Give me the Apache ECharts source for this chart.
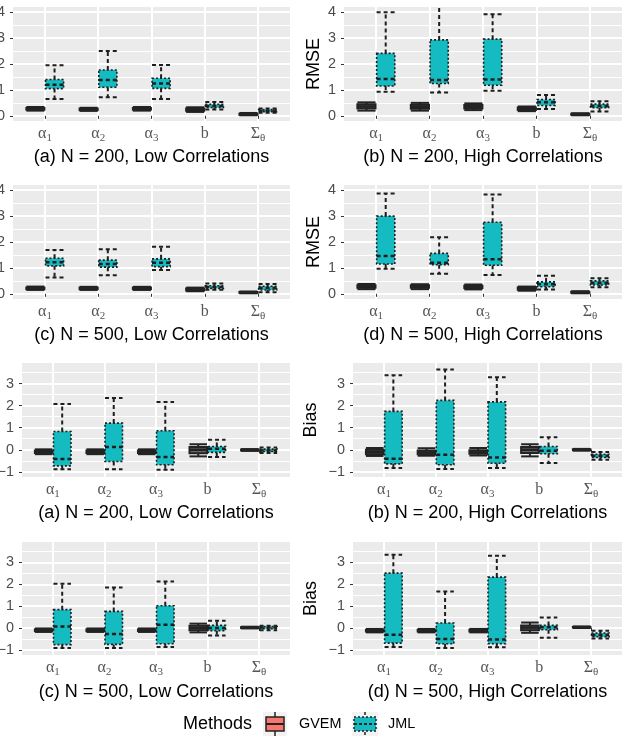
<!DOCTYPE html>
<html>
<head>
<meta charset="utf-8">
<script src="https://cdn.jsdelivr.net/npm/echarts@6/dist/echarts.min.js"></script>
<style>
html, body { margin: 0; padding: 0; background: #fff; }
#main { width: 630px; height: 744px; }
</style>
</head>
<body>
<div id="main"></div>
<script>
// categories on every x axis
var catPos = [1, 2, 3, 4, 5];
var catLabels = ['{a|α}{s|1}', '{a|α}{s|2}', '{a|α}{s|3}', '{a|b}', '{a|Σ}{s|θ}'];
var methods = ['GVEM', 'JML'];

// y ticks
var rmseTicks = [0, 1, 2, 3, 4];
var rmseMinor = [0.5, 1.5, 2.5, 3.5];
var biasTicks = [-1, 0, 1, 2, 3];
var biasMinor = [-0.5, 0.5, 1.5, 2.5, 3.5];

// each row: [low whisker, Q1, median, Q3, high whisker] for a1, a2, a3, b, Sigma
var rmse_a_gvem = [[0.2, 0.24, 0.27, 0.3, 0.34], [0.19, 0.22, 0.25, 0.28, 0.31], [0.2, 0.24, 0.27, 0.3, 0.34], [0.15, 0.2, 0.24, 0.28, 0.33], [0.02, 0.04, 0.06, 0.08, 0.11]];
var rmse_a_jml = [[0.65, 1.05, 1.2, 1.4, 1.95], [0.72, 1.1, 1.38, 1.77, 2.5], [0.65, 1.06, 1.25, 1.45, 1.96], [0.24, 0.32, 0.38, 0.44, 0.53], [0.12, 0.16, 0.2, 0.24, 0.28]];
var rmse_b_gvem = [[0.2, 0.28, 0.36, 0.45, 0.52], [0.2, 0.27, 0.35, 0.43, 0.5], [0.22, 0.28, 0.35, 0.42, 0.48], [0.18, 0.22, 0.27, 0.32, 0.36], [0.02, 0.04, 0.06, 0.08, 0.1]];
var rmse_b_jml = [[0.93, 1.15, 1.42, 2.41, 4.0], [0.9, 1.25, 1.38, 2.93, 4.5], [0.97, 1.18, 1.4, 2.96, 3.92], [0.26, 0.4, 0.52, 0.63, 0.8], [0.17, 0.31, 0.38, 0.45, 0.56]];
var rmse_c_gvem = [[0.15, 0.18, 0.21, 0.24, 0.28], [0.15, 0.18, 0.21, 0.24, 0.27], [0.15, 0.18, 0.21, 0.24, 0.27], [0.1, 0.13, 0.17, 0.21, 0.24], [0.02, 0.04, 0.05, 0.07, 0.09]];
var rmse_c_jml = [[0.63, 1.08, 1.22, 1.37, 1.69], [0.72, 1.03, 1.15, 1.3, 1.72], [0.92, 1.05, 1.2, 1.35, 1.82], [0.16, 0.21, 0.26, 0.31, 0.4], [0.06, 0.15, 0.22, 0.29, 0.38]];
var rmse_d_gvem = [[0.18, 0.23, 0.28, 0.33, 0.38], [0.18, 0.23, 0.28, 0.33, 0.37], [0.17, 0.22, 0.27, 0.31, 0.36], [0.12, 0.16, 0.2, 0.24, 0.28], [0.02, 0.04, 0.06, 0.08, 0.1]];
var rmse_d_jml = [[0.97, 1.15, 1.46, 3.0, 3.87], [0.77, 1.12, 1.2, 1.56, 2.18], [0.73, 1.1, 1.33, 2.76, 3.83], [0.17, 0.27, 0.37, 0.46, 0.7], [0.25, 0.34, 0.42, 0.5, 0.6]];

var bias_a_gvem = [[-0.2, -0.15, -0.09, -0.03, 0.02], [-0.2, -0.15, -0.09, -0.03, 0.02], [-0.2, -0.15, -0.09, -0.03, 0.02], [-0.3, -0.16, 0.0, 0.13, 0.25], [-0.05, -0.03, -0.01, 0.01, 0.03]];
var bias_a_jml = [[-0.88, -0.73, -0.42, 0.83, 2.08], [-0.88, -0.53, 0.12, 1.21, 2.35], [-0.91, -0.68, -0.33, 0.86, 2.17], [-0.33, -0.12, 0.05, 0.15, 0.45], [-0.15, -0.08, -0.03, 0.03, 0.1]];
var bias_b_gvem = [[-0.28, -0.2, -0.1, 0.0, 0.08], [-0.27, -0.2, -0.12, -0.03, 0.07], [-0.26, -0.18, -0.1, -0.02, 0.08], [-0.3, -0.15, 0.0, 0.12, 0.25], [-0.04, -0.02, 0.0, 0.02, 0.04]];
var bias_b_jml = [[-0.83, -0.64, -0.41, 1.74, 3.38], [-0.87, -0.68, -0.23, 2.24, 3.64], [-0.83, -0.61, -0.35, 2.17, 3.29], [-0.6, -0.18, -0.04, 0.15, 0.57], [-0.45, -0.35, -0.28, -0.2, -0.1]];
var bias_c_gvem = [[-0.18, -0.14, -0.1, -0.06, -0.02], [-0.18, -0.14, -0.1, -0.06, -0.02], [-0.18, -0.14, -0.1, -0.06, -0.02], [-0.2, -0.1, 0.0, 0.1, 0.2], [-0.02, 0.0, 0.02, 0.04, 0.06]];
var bias_c_jml = [[-0.91, -0.76, 0.07, 0.84, 2.02], [-0.91, -0.75, -0.27, 0.76, 1.85], [-0.87, -0.72, 0.15, 1.02, 2.13], [-0.34, -0.12, 0.0, 0.12, 0.33], [-0.1, -0.03, 0.02, 0.07, 0.1]];
var bias_d_gvem = [[-0.2, -0.16, -0.12, -0.08, -0.04], [-0.2, -0.16, -0.12, -0.08, -0.04], [-0.2, -0.16, -0.12, -0.08, -0.04], [-0.22, -0.1, 0.02, 0.12, 0.25], [0.0, 0.02, 0.04, 0.05, 0.07]];
var bias_d_jml = [[-0.87, -0.69, -0.31, 2.51, 3.35], [-0.91, -0.72, -0.5, 0.23, 1.67], [-0.88, -0.72, -0.53, 2.33, 3.31], [-0.45, -0.08, 0.03, 0.12, 0.48], [-0.48, -0.4, -0.32, -0.23, -0.12]];

var FONT = '"Liberation Sans", Arial, sans-serif';
var SERIF = '"Liberation Serif", "DejaVu Serif", serif';

var rmseAxis = {name: 'RMSE', min: -0.2, max: 4.2, ticks: rmseTicks, minor: rmseMinor};
var biasAxis = {name: 'Bias', min: -1.235, max: 3.935, ticks: biasTicks, minor: biasMinor};

// panel layout (pixels)
var panels = [
    {title: '(a) N = 200, Low Correlations', ax: rmseAxis, gvem: rmse_a_gvem, jml: rmse_a_jml, left: 13, right: 340, top: 7, height: 114, nameGap: 21, ty: 157},
    {title: '(b) N = 200, High Correlations', ax: rmseAxis, gvem: rmse_b_gvem, jml: rmse_b_jml, left: 344, right: 8, top: 7, height: 114, nameGap: 21, ty: 157},
    {title: '(c) N = 500, Low Correlations', ax: rmseAxis, gvem: rmse_c_gvem, jml: rmse_c_jml, left: 13, right: 340, top: 185, height: 114, nameGap: 21, ty: 335},
    {title: '(d) N = 500, High Correlations', ax: rmseAxis, gvem: rmse_d_gvem, jml: rmse_d_jml, left: 344, right: 8, top: 185, height: 114, nameGap: 21, ty: 335},
    {title: '(a) N = 200, Low Correlations', ax: biasAxis, gvem: bias_a_gvem, jml: bias_a_jml, left: 22, right: 340, top: 363, height: 114, nameGap: 33, ty: 513},
    {title: '(b) N = 200, High Correlations', ax: biasAxis, gvem: bias_b_gvem, jml: bias_b_jml, left: 353, right: 8, top: 363, height: 114, nameGap: 33, ty: 513},
    {title: '(c) N = 500, Low Correlations', ax: biasAxis, gvem: bias_c_gvem, jml: bias_c_jml, left: 22, right: 340, top: 542, height: 113, nameGap: 33, ty: 692},
    {title: '(d) N = 500, High Correlations', ax: biasAxis, gvem: bias_d_gvem, jml: bias_d_jml, left: 353, right: 8, top: 542, height: 113, nameGap: 33, ty: 692}
];

var boxStyles = {
    GVEM: {shift: -0.18, half: 0.17, fill: '#666666', stroke: '#232323', box: 2, whisker: 2, median: 2.5, boxDash: null, dash: null},
    JML: {shift: 0.18, half: 0.17, fill: '#14BCC2', stroke: '#1e1e1e', box: 1.6, whisker: 2, median: 2.5, boxDash: [2, 2], dash: [4, 3]}
};

function makeRender(st) {
    return function (params, api) {
        var x = api.value(0) + st.shift;
        var xl = api.coord([x - st.half, 0])[0];
        var xr = api.coord([x + st.half, 0])[0];
        var xc = api.coord([x, 0])[0];
        var lo = api.coord([x, api.value(1)])[1];
        var q1 = api.coord([x, api.value(2)])[1];
        var md = api.coord([x, api.value(3)])[1];
        var q3 = api.coord([x, api.value(4)])[1];
        var hi = api.coord([x, api.value(5)])[1];
        var ls = {stroke: st.stroke, lineWidth: st.whisker, lineDash: st.dash, fill: null};
        return {
            type: 'group',
            children: [
                {type: 'line', shape: {x1: xc, y1: q3, x2: xc, y2: hi}, style: ls},
                {type: 'line', shape: {x1: xc, y1: q1, x2: xc, y2: lo}, style: ls},
                {type: 'line', shape: {x1: xl, y1: hi, x2: xr, y2: hi}, style: ls},
                {type: 'line', shape: {x1: xl, y1: lo, x2: xr, y2: lo}, style: ls},
                {type: 'rect', shape: {x: xl, y: q3, width: xr - xl, height: q1 - q3},
                    style: {fill: st.fill, stroke: st.stroke, lineWidth: st.box, lineDash: st.boxDash}},
                {type: 'line', shape: {x1: xl, y1: md, x2: xr, y2: md},
                    style: {stroke: st.stroke, lineWidth: st.median, lineDash: st.dash, fill: null}}
            ]
        };
    };
}

function yFmt(v) {
    return v < 0 ? '\u2212' + (-v) : String(v);
}

var grids = [], xAxes = [], yAxes = [], series = [], graphics = [];

panels.forEach(function (p, i) {
    grids.push({left: p.left, right: p.right, top: p.top, height: p.height,
        show: true, backgroundColor: '#EBEBEB', borderWidth: 0,
        containLabel: false, outerBoundsMode: 'none'});
    xAxes.push({
        gridIndex: i, type: 'value', min: 0.4, max: 5.6,
        axisLine: {show: false},
        axisTick: {show: true, length: 3, customValues: catPos, lineStyle: {color: '#333', width: 1}},
        axisLabel: {
            customValues: catPos, margin: 3,
            formatter: function (v) { return catLabels[Math.round(v) - 1]; },
            rich: {
                a: {fontFamily: SERIF, fontSize: 16, color: '#555', lineHeight: 20},
                s: {fontFamily: SERIF, fontSize: 11, color: '#555', lineHeight: 12, padding: [8, 0, 0, 0]}
            }
        },
        splitLine: {show: true, lineStyle: {color: '#fff', width: 2}}
    });
    yAxes.push({
        gridIndex: i, type: 'value', min: p.ax.min, max: p.ax.max,
        name: p.ax.name, nameLocation: 'middle', nameRotate: 90, nameGap: p.nameGap,
        nameTextStyle: {fontSize: 18, color: '#000', fontFamily: FONT},
        axisLine: {show: false},
        axisTick: {show: true, length: 3, customValues: p.ax.ticks, lineStyle: {color: '#333', width: 1}},
        axisLabel: {customValues: p.ax.ticks, margin: 8, fontSize: 14.4, color: '#4D4D4D', fontFamily: FONT, formatter: yFmt},
        splitLine: {show: true, lineStyle: {color: '#fff', width: 2}}
    });
    yAxes.push({
        gridIndex: i, type: 'value', min: p.ax.min, max: p.ax.max, position: 'left',
        axisLine: {show: false},
        axisTick: {show: false, customValues: p.ax.minor},
        axisLabel: {show: false, customValues: p.ax.minor},
        splitLine: {show: true, lineStyle: {color: '#fff', width: 1}}
    });
    [['GVEM', p.gvem], ['JML', p.jml]].forEach(function (m) {
        series.push({
            name: m[0], type: 'custom', xAxisIndex: i, yAxisIndex: 2 * i, clip: true,
            encode: {x: 0, y: [1, 2, 3, 4, 5]},
            data: m[1].map(function (r, k) { return [catPos[k]].concat(r); }),
            renderItem: makeRender(boxStyles[m[0]])
        });
    });
    graphics.push({
        type: 'text', x: p.left + (630 - p.right - p.left) / 2, y: p.ty,
        style: {text: p.title, fontSize: 18, fontFamily: FONT, fill: '#000',
            align: 'center', verticalAlign: 'middle'}
    });
});

// legend
graphics.push(
    {type: 'text', x: 183, y: 724, style: {text: 'Methods', fontSize: 18, fontFamily: FONT, fill: '#000', align: 'left', verticalAlign: 'middle'}},
    {type: 'rect', shape: {x: 263, y: 712, width: 24, height: 24}, style: {fill: '#F2F2F2'}},
    {type: 'line', shape: {x1: 275, y1: 712, x2: 275, y2: 736}, style: {stroke: '#222', lineWidth: 1.5}},
    {type: 'rect', shape: {x: 266, y: 717, width: 18, height: 14}, style: {fill: '#F8766D', stroke: '#222', lineWidth: 1.5}},
    {type: 'line', shape: {x1: 266, y1: 724, x2: 284, y2: 724}, style: {stroke: '#222', lineWidth: 2}},
    {type: 'text', x: 299, y: 724, style: {text: methods[0], fontSize: 14.4, fontFamily: FONT, fill: '#000', align: 'left', verticalAlign: 'middle'}},
    {type: 'rect', shape: {x: 352, y: 712, width: 26, height: 24}, style: {fill: '#F2F2F2'}},
    {type: 'line', shape: {x1: 365, y1: 712, x2: 365, y2: 736}, style: {stroke: '#222', lineWidth: 1.5, lineDash: [3, 2]}},
    {type: 'rect', shape: {x: 354, y: 717, width: 22, height: 14}, style: {fill: '#14BCC2', stroke: '#222', lineWidth: 1.5, lineDash: [2, 2]}},
    {type: 'line', shape: {x1: 354, y1: 724, x2: 376, y2: 724}, style: {stroke: '#222', lineWidth: 2, lineDash: [3, 2]}},
    {type: 'text', x: 388, y: 724, style: {text: methods[1], fontSize: 14.4, fontFamily: FONT, fill: '#000', align: 'left', verticalAlign: 'middle'}}
);

var myChart = echarts.init(document.getElementById('main'), null, {renderer: 'canvas'});
myChart.setOption({
    animation: false,
    backgroundColor: '#fff',
    grid: grids,
    xAxis: xAxes,
    yAxis: yAxes,
    series: series,
    graphic: graphics
});
</script>
</body>
</html>
